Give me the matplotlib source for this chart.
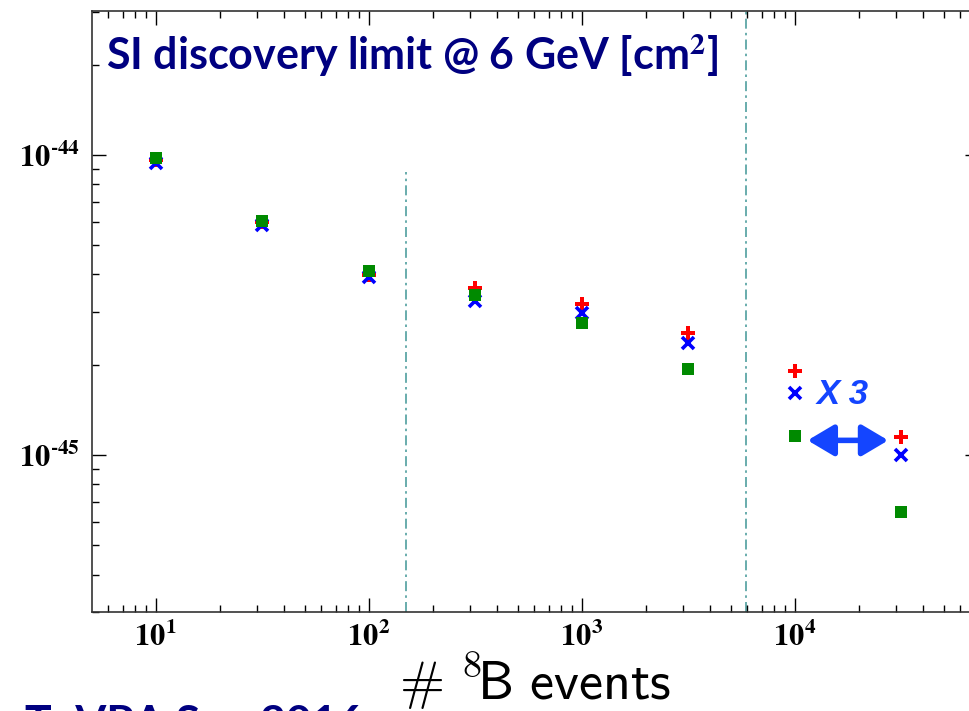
import numpy as np
import matplotlib
matplotlib.use('Agg')
import matplotlib.pyplot as plt

plt.rcParams['mathtext.fontset'] = 'stix'

# number of 8B events
n_events = [10, 31.6, 100, 316, 1000, 3162, 10000, 31623]
# SI discovery limit @ 6 GeV [cm^2], three configurations
lim_red = [9.6e-45, 5.98e-45, 3.98e-45, 3.6e-45, 3.19e-45, 2.55e-45, 1.90e-45, 1.15e-45]
lim_blue = [9.4e-45, 5.84e-45, 3.92e-45, 3.26e-45, 2.97e-45, 2.36e-45, 1.61e-45, 1.0e-45]
lim_green = [9.77e-45, 6.03e-45, 4.1e-45, 3.41e-45, 2.75e-45, 1.94e-45, 1.16e-45, 6.47e-46]

xtick_vals = [10, 100, 1000, 10000]
xtick_labels = [r'$\mathbf{10^{1}}$', r'$\mathbf{10^{2}}$', r'$\mathbf{10^{3}}$', r'$\mathbf{10^{4}}$']
ytick_vals = [1e-45, 1e-44]
ytick_labels = ['$\\mathbf{10^{\u2010 45}}$', '$\\mathbf{10^{\u2010 44}}$']

vline1 = 150
vline2 = 5900

NAVY = '#000080'
TEAL = '#4f9e9e'
ARROWBLUE = '#1445ff'

fig = plt.figure(figsize=(9.7, 7.11), dpi=100)
ax = fig.add_axes([0.0948, 0.1392, 0.914, 0.8453])
ax.set_xscale('log')
ax.set_yscale('log')
ax.set_xlim(5.02, 7.3e4)
ax.set_ylim(3.0e-46, 3.02e-44)

ax.plot(n_events, lim_red, ls='none', marker='P', color='#ff0000', ms=10, mew=0, zorder=3)
ax.plot(n_events, lim_blue, ls='none', marker='x', color='#0000ff', ms=8, mew=2.6, zorder=4)
ax.plot(n_events, lim_green, ls='none', marker='s', color='#008a00', ms=9, mew=0, zorder=5)

# regions
ax.plot([vline1, vline1], [3.0e-46, 8.8e-45], color=TEAL, lw=1.2, ls=(0, (6, 2.5, 1.5, 2.5)), zorder=1)
ax.plot([vline2, vline2], [3.0e-46, 3.02e-44], color=TEAL, lw=1.2, ls=(0, (6, 2.5, 1.5, 2.5)), zorder=1)

# x3 arrow
ax.annotate('', xy=(1.15e4, 1.12e-45), xytext=(2.75e4, 1.12e-45),
            arrowprops=dict(arrowstyle='<|-|>,head_length=1.6,head_width=0.95', color=ARROWBLUE,
                            lw=4, shrinkA=0, shrinkB=0))
ax.text(1.27e4, 1.59e-45, 'X 3', color=ARROWBLUE, fontsize=25, style='italic', fontweight='bold',
        family='Liberation Sans', ha='left', va='center')

ax.set_xticks(xtick_vals)
ax.set_xticklabels(xtick_labels, fontsize=22)
ax.set_yticks(ytick_vals)
ax.set_yticklabels(ytick_labels, fontsize=22)
ax.tick_params(which='major', direction='in', length=10, width=1, top=True, right=True)
ax.tick_params(axis='x', which='major', pad=7)
ax.tick_params(axis='y', which='major', pad=9)
ax.tick_params(which='minor', direction='in', length=5, width=1, top=True, right=True)
ax.tick_params(axis='y', which='minor', labelleft=False)
ax.tick_params(axis='x', which='minor', labelbottom=False)
for s in ax.spines.values():
    s.set_linewidth(1.2)
    s.set_color('#333333')

ax.text(0.016, 0.926, r'SI discovery limit @ 6 GeV [cm$^{\mathbf{2}}$]', transform=ax.transAxes,
        color=NAVY, fontsize=31, fontweight='bold', family='Lato', ha='left', va='center')

fig.text(0.5515, 1 - 700 / 711, r'$\mathsf{\#\ {}^{8}\!B\ events}$', fontsize=39, math_fontfamily='cm',
         ha='center', va='baseline')
fig.text(0.374, 1 - 704 / 711, 'TeVPA Sep 2016', fontsize=32, fontweight='bold', family='Lato',
         color=NAVY, ha='right', va='top')

fig.savefig('out.png', dpi=100)
